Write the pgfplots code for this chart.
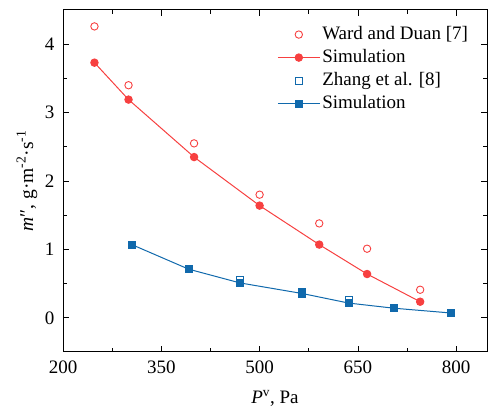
\documentclass[border=0pt]{standalone}
\usepackage{fontspec}
\setmainfont{Liberation Serif}
\usepackage{pgfplots}
\pgfplotsset{compat=1.18}
\usetikzlibrary{calc}
\definecolor{cred}{RGB}{247,64,64}
\definecolor{cblue}{RGB}{16,105,172}
\pgfplotsset{
  lineleg/.style={legend image code/.code={\draw[##1, mark repeat=2, mark phase=2] plot coordinates {(0bp,0bp) (21bp,0bp) (42bp,0bp)};}},
  markleg/.style={legend image code/.code={\draw[##1] plot[only marks] coordinates {(21bp,0bp)};}},
}
\begin{document}
\fontsize{19bp}{23bp}\selectfont
\begin{tikzpicture}
\begin{axis}[
  scale only axis, width=424bp, height=342bp,
  xmin=200, xmax=847, ymin=-0.5, ymax=4.5,
  xtick={200,350,500,650,800}, minor xtick={275,425,575,725},
  ytick={0,1,2,3,4}, minor ytick={0.5,1.5,2.5,3.5},
  tick align=inside, major tick length=6bp, minor tick length=4bp,
  tick style={black, line width=0.8bp},
  axis line style={black, line width=1bp},
  /pgf/number format/assume math mode=true,
  tick label style={font=\fontsize{19bp}{23bp}\selectfont, text=black},
  xticklabel style={yshift=-2bp},
  yticklabel style={xshift=-2bp},
  xlabel={\textit{P}\textsuperscript{v}, Pa},
  ylabel={\textit{m}″, g·m\textsuperscript{-2}·s\textsuperscript{-1}},
  xlabel style={at={(axis description cs:0.5,-0.135)}, anchor=center, font=\fontsize{19bp}{23bp}\selectfont},
  ylabel style={at={(axis description cs:-0.085,0.5)}, anchor=center, font=\fontsize{19.5bp}{23bp}\selectfont},
  legend style={draw=none, fill=none, at={(axis description cs:0.505,0.958)}, anchor=north west,
    font=\fontsize{19bp}{23bp}\selectfont, row sep=3bp, inner sep=0pt},
  legend cell align=left,
]
\coordinate (bl) at (rel axis cs:0,0);
\coordinate (tr) at (rel axis cs:1,1);
\addplot[only marks, mark=o, mark size=3.7bp, cred, mark options={line width=0.9bp}, markleg]
  coordinates {(248,4.26) (300,3.40) (400,2.55) (500,1.80) (591,1.38) (664,1.01) (745,0.41)};
\addlegendentry{Ward and Duan [7]}
\addplot[cred, line width=1bp, mark=*, mark size=3.7bp, lineleg]
  coordinates {(248,3.73) (300,3.19) (400,2.35) (500,1.64) (591,1.07) (664,0.64) (745,0.235)};
\addlegendentry{Simulation}
\addplot[only marks, mark=square, mark size=3.4bp, cblue, mark options={line width=0.9bp}, markleg]
  coordinates {(305,1.07) (392,0.71) (470,0.55) (565,0.38) (636,0.26) (705,0.14) (792,0.07)};
\addlegendentry{Zhang et al. [8]}
\addplot[cblue, line width=1bp, mark=square*, mark size=3.6bp, lineleg]
  coordinates {(305,1.07) (392,0.71) (470,0.51) (565,0.355) (636,0.215) (705,0.14) (792,0.07)};
\addlegendentry{Simulation}
\end{axis}
\pgfresetboundingbox
\path ($(bl)+(-63bp,-59bp)$) rectangle ($(tr)+(1bp,10bp)$);
\end{tikzpicture}
\end{document}
